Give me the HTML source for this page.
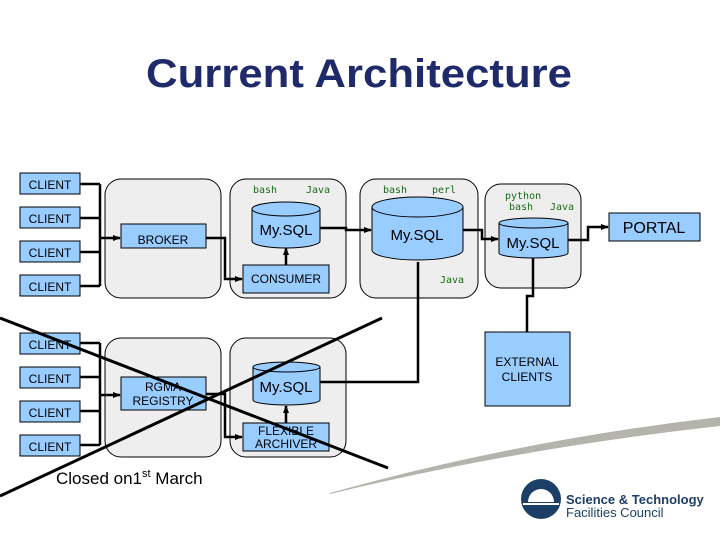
<!DOCTYPE html>
<html><head><meta charset="utf-8"><style>
body{margin:0;width:720px;height:540px;background:#fff;overflow:hidden;font-family:"Liberation Sans",sans-serif}
</style></head><body>
<svg width="720" height="540" viewBox="0 0 720 540" xmlns="http://www.w3.org/2000/svg" font-family="Liberation Sans, sans-serif">
<defs><marker id="a" markerUnits="userSpaceOnUse" markerWidth="8" markerHeight="8" refX="7" refY="4" orient="auto"><path d="M0,1L8,4L0,7z" fill="#000"/></marker></defs>
<text x="359" y="87" text-anchor="middle" font-size="40" font-weight="bold" fill="#1f2a6b" textLength="426" lengthAdjust="spacingAndGlyphs">Current Architecture</text>
<path d="M330,493 Q520,440 720,417 L720,426 Q520,448 330,494z" fill="#b4b4ac"/>
<g fill="#eeeeee" stroke="#000" stroke-width="1">
<rect x="105" y="179" width="116" height="119" rx="16"/>
<rect x="230" y="179" width="116" height="119" rx="16"/>
<rect x="360" y="179" width="118" height="119" rx="16"/>
<rect x="485" y="184" width="96" height="104" rx="16"/>
<rect x="105" y="338" width="116" height="119" rx="16"/>
<rect x="230" y="338" width="116" height="119" rx="16"/>
</g>
<g fill="none" stroke="#000" stroke-width="2.5">
<path d="M80,184H100M80,218H100M80,252H100M80,286H100M100,184V286"/>
<path d="M100,238H120" marker-end="url(#a)"/>
<path d="M206,238H225V279H242" marker-end="url(#a)"/>
<path d="M286,265V248" marker-end="url(#a)"/>
<path d="M320,228H346V230H371" marker-end="url(#a)"/>
<path d="M463,230H482V239H498" marker-end="url(#a)"/>
<path d="M568,240H588V227H608" marker-end="url(#a)"/>
<path d="M533,258V296H527V332"/>
<path d="M418,262V382H320"/>
<path d="M80,343H100M80,377H100M80,411H100M80,445H100M100,343V445"/>
<path d="M100,395H120" marker-end="url(#a)"/>
<path d="M206,394H225V437H242" marker-end="url(#a)"/>
<path d="M286,423V406" marker-end="url(#a)"/>
</g>
<g fill="#99ccff" stroke="#000" stroke-width="1">
<rect x="20" y="173" width="60" height="21"/><rect x="20" y="207" width="60" height="21"/>
<rect x="20" y="241" width="60" height="21"/><rect x="20" y="275" width="60" height="21"/>
<rect x="20" y="333" width="60" height="21"/><rect x="20" y="367" width="60" height="21"/>
<rect x="20" y="401" width="60" height="21"/><rect x="20" y="435" width="60" height="21"/>
<rect x="121" y="224" width="85" height="24"/>
<rect x="243" y="265" width="86" height="28"/>
<rect x="609" y="213" width="91" height="28"/>
<rect x="485" y="332" width="85" height="74"/>
<rect x="121" y="377" width="85" height="33"/>
<rect x="243" y="423" width="86" height="28"/>
<path d="M252,209V241A34,7 0 0 0 320,241V209A34,7 0 0 0 252,209A34,7 0 0 0 320,209"/>
<path d="M372,207V250A45.5,10 0 0 0 463,250V207A45.5,10 0 0 0 372,207A45.5,10 0 0 0 463,207"/>
<path d="M499,223V253A34.5,5 0 0 0 568,253V223A34.5,5 0 0 0 499,223A34.5,5 0 0 0 568,223"/>
<path d="M253,367V400A33.5,5 0 0 0 320,400V367A33.5,5 0 0 0 253,367A33.5,5 0 0 0 320,367"/>
</g>
<g font-size="12" fill="#000" text-anchor="middle">
<text x="50" y="189">CLIENT</text><text x="50" y="223">CLIENT</text><text x="50" y="257">CLIENT</text><text x="50" y="291">CLIENT</text>
<text x="50" y="349">CLIENT</text><text x="50" y="383">CLIENT</text><text x="50" y="417">CLIENT</text><text x="50" y="451">CLIENT</text>
<text x="163" y="244">BROKER</text><text x="286" y="283">CONSUMER</text>
<text x="527" y="366">EXTERNAL</text><text x="527" y="381">CLIENTS</text>
<text x="163" y="391">RGMA</text><text x="163" y="405">REGISTRY</text>
<text x="286" y="435">FLEXIBLE</text><text x="286" y="448">ARCHIVER</text>
<text x="654" y="233" font-size="16">PORTAL</text>
<text x="286" y="235" font-size="15">My.SQL</text><text x="417" y="240" font-size="15">My.SQL</text>
<text x="533" y="248" font-size="15">My.SQL</text><text x="286" y="392" font-size="15">My.SQL</text>
</g>
<g font-size="10" fill="#1a6a1a" font-family="DejaVu Sans Mono, monospace">
<text x="253" y="193">bash</text><text x="306" y="193">Java</text>
<text x="383" y="193">bash</text><text x="432" y="193">perl</text><text x="440" y="283">Java</text>
<text x="505" y="199">python</text><text x="509" y="210">bash</text><text x="550" y="210">Java</text>
</g>
<g stroke="#000" stroke-width="3"><line x1="0" y1="318" x2="388" y2="468"/><line x1="0" y1="496" x2="382" y2="318"/></g>
<text x="56" y="484" font-size="17">Closed on1<tspan font-size="11" dy="-7">st</tspan><tspan dy="7"> March</tspan></text>
<circle cx="541" cy="499" r="20" fill="#1b3f66"/>
<path d="M523,504H559" stroke="#fff" stroke-width="2"/><path d="M528,502A13,13 0 0 1 554,502" fill="#fff"/>
<text x="566" y="504" font-size="13" font-weight="bold" fill="#1b3f66">Science &amp; Technology</text>
<text x="566" y="517" font-size="13" fill="#1b3f66">Facilities Council</text>
</svg>
</body></html>
